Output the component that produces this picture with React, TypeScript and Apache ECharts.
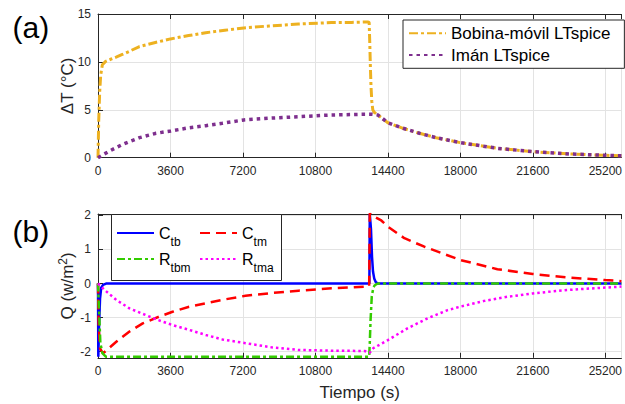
import React, { useEffect, useRef } from "react";
import * as echarts from "echarts";

// ---- Data ----
const bobinaT = [0, 35, 84, 133, 217, 380, 600, 900, 1235, 1600, 2060, 2800, 3600, 4500, 5350, 6300, 7245, 8500, 9960, 11600, 12600, 13420, 13470, 13500, 13530, 13560, 13600, 13650, 13720, 13910, 14400, 15150, 15970, 16790, 18000, 19840, 21600, 23460, 25200, 26000];
const bobinaV = [0, 3.8, 6.9, 8.6, 9.7, 10.05, 10.25, 10.5, 10.8, 11.15, 11.6, 12.0, 12.4, 12.75, 13.05, 13.3, 13.55, 13.75, 13.95, 14.1, 14.12, 14.17, 14.1, 12.0, 9.5, 7.5, 5.9, 5.0, 4.75, 4.45, 3.65, 3.07, 2.55, 2.09, 1.57, 0.98, 0.63, 0.39, 0.25, 0.2];

const imanT = [0, 300, 578, 900, 1235, 1600, 2060, 2884, 3625, 4530, 5353, 6170, 7245, 8500, 9960, 11600, 12600, 13250, 13630, 13910, 14400, 15150, 15970, 16790, 18000, 19840, 21600, 23460, 25200, 26000];
const imanV = [0, 0.38, 0.7, 1.05, 1.4, 1.72, 2.09, 2.55, 2.79, 3.13, 3.34, 3.59, 3.94, 4.12, 4.28, 4.46, 4.5, 4.53, 4.53, 4.45, 3.65, 3.07, 2.55, 2.09, 1.57, 0.98, 0.63, 0.39, 0.25, 0.2];

const ctbT = [0, 15, 50, 100, 160, 250, 400, 13480, 13500, 13560, 13610, 13660, 13720, 13800, 13900, 26000];
const ctbV = [0, -2.15, -1.3, -0.45, -0.12, -0.04, 0, 0, 2.04, 1.6, 0.8, 0.35, 0.15, 0.04, 0, 0];

const ctmT = [0, 30, 100, 247, 500, 908, 1565, 2222, 3047, 3704, 4528, 5353, 6173, 7325, 8600, 9960, 11600, 13250, 13470, 13500, 13600, 14070, 14400, 15220, 16210, 18000, 19840, 21600, 23300, 25200, 26000];
const ctmV = [0, -1.2, -1.9, -2.05, -1.92, -1.71, -1.41, -1.17, -0.97, -0.83, -0.68, -0.58, -0.48, -0.36, -0.28, -0.21, -0.14, -0.09, -0.08, 2.06, 2.0, 1.85, 1.67, 1.33, 1.08, 0.69, 0.42, 0.28, 0.18, 0.1, 0.07];

const rtbmT = [0, 50, 118, 217, 400, 13470, 13500, 13540, 13600, 13680, 13750, 13900, 26000];
const rtbmV = [0, -0.76, -1.75, -2.04, -2.15, -2.15, -1.75, -1.06, -0.37, -0.12, -0.05, 0, 0];

const rtmaT = [0, 330, 908, 1565, 2222, 2884, 3704, 4528, 5353, 6173, 7325, 8600, 9960, 11600, 13250, 13500, 13670, 14400, 15390, 16380, 17370, 18000, 19185, 20330, 21600, 23300, 25200, 26000];
const rtmaV = [0, -0.19, -0.48, -0.73, -0.89, -1.05, -1.22, -1.36, -1.51, -1.64, -1.75, -1.87, -1.95, -1.97, -1.98, -2.03, -1.9, -1.66, -1.31, -1.02, -0.78, -0.68, -0.51, -0.39, -0.29, -0.19, -0.12, -0.09];

const topYTicks = [0, 5, 10, 15];
const bottomYTicks = [-2, -1, 0, 1, 2];

const zip = (t: number[], v: number[]) => t.map((x, i) => [x, v[i]]);

const FONT = "Liberation Sans, Arial, Helvetica, sans-serif";
const AX = "#262626";
const GRIDC = "#e3e3e3";
const plain = (v: number) => String(v);

function xAxisPair(gridIndex: number, withName: boolean) {
  const common = {
    type: "value" as const,
    gridIndex,
    min: 0,
    max: 26000,
    interval: 3600,
    axisLine: { show: true, onZero: false, lineStyle: { color: AX, width: 1 } },
    axisTick: { show: true, inside: true, length: 5, lineStyle: { color: AX } },
  };
  return [
    {
      ...common,
      position: "bottom",
      axisLabel: { color: AX, fontSize: 12, margin: 7, fontFamily: FONT, showMaxLabel: false, formatter: plain },
      splitLine: { show: true, lineStyle: { color: GRIDC, width: 1 } },
      ...(withName
        ? {
            name: "Tiempo (s)",
            nameLocation: "middle",
            nameGap: 26,
            nameMoveOverlap: false,
            nameTextStyle: { fontSize: 17, color: AX, fontFamily: FONT },
          }
        : {}),
    },
    {
      ...common,
      position: "top",
      axisLabel: { show: false },
      splitLine: { show: false },
    },
  ];
}

const subLegend = (names: string[], left: number) => ({
  data: names,
  orient: "vertical",
  left,
  top: 225,
  itemWidth: 37,
  itemHeight: 14,
  itemGap: 3,
  padding: 0,
  itemStyle: { opacity: 0, borderWidth: 0 },
  formatter: (n: string) => `{m|${n[0]}}{s|${n.slice(1)}}`,
  textStyle: {
    color: "#000",
    fontFamily: FONT,
    rich: {
      m: { fontSize: 16, color: "#000", fontFamily: FONT },
      s: { fontSize: 12, color: "#000", fontFamily: FONT, padding: [18, 0, 0, 0] },
    },
  },
});

export default function App() {
  const ref = useRef<HTMLDivElement>(null);
  useEffect(() => {
    if (!ref.current) return;
    const chart = echarts.init(ref.current, null, { renderer: "svg" });
    const lineBase = { type: "line", symbol: "none", showSymbol: false, animation: false };
    const option: any = {
      animation: false,
      backgroundColor: "#fff",
      textStyle: { fontFamily: FONT },
      grid: [
        { left: 98, right: -1, top: 14, height: 143.7 },
        { left: 98, right: -1, top: 214, height: 143.8 },
      ],
      xAxis: [...xAxisPair(0, false), ...xAxisPair(1, true)],
      yAxis: [
        {
          type: "value",
          gridIndex: 0,
          min: topYTicks[0],
          max: topYTicks[topYTicks.length - 1],
          interval: 5,
          name: "ΔT (°C)",
          nameLocation: "middle",
          nameGap: 22,
          nameMoveOverlap: false,
          nameTextStyle: { fontSize: 17, color: AX, fontFamily: FONT },
          axisLine: { show: true, onZero: false, lineStyle: { color: AX } },
          axisTick: { show: true, inside: true, length: 5, lineStyle: { color: AX } },
          axisLabel: { color: AX, fontSize: 12, margin: 7, fontFamily: FONT, formatter: plain },
          splitLine: { show: true, lineStyle: { color: GRIDC } },
        },
        {
          type: "value",
          gridIndex: 1,
          min: -2.18,
          max: 2.04,
          name: "{n|Q (w/m}{s|2}{n|)}",
          nameLocation: "middle",
          nameGap: 21,
          nameMoveOverlap: false,
          nameTextStyle: {
            fontSize: 17,
            color: AX,
            fontFamily: FONT,
            rich: {
              n: { fontSize: 17, color: AX, fontFamily: FONT },
              s: { fontSize: 12, color: AX, fontFamily: FONT, padding: [0, 0, 8, 0] },
            },
          },
          axisLine: { show: true, onZero: false, lineStyle: { color: AX } },
          axisTick: { show: true, inside: true, length: 5, lineStyle: { color: AX }, customValues: bottomYTicks },
          axisLabel: { color: AX, fontSize: 12, margin: 7, fontFamily: FONT, customValues: bottomYTicks, formatter: plain },
          splitLine: { show: true, lineStyle: { color: GRIDC } },
        },
      ],
      legend: [
        {
          data: ["Bobina-móvil LTspice", "Imán LTspice"],
          orient: "vertical",
          left: 403,
          top: 20,
          itemWidth: 37,
          itemHeight: 14,
          itemGap: 4.7,
          padding: [4.8, 14, 4.8, 5],
          backgroundColor: "#fff",
          borderColor: AX,
          borderWidth: 1,
          borderRadius: 0,
          itemStyle: { opacity: 0, borderWidth: 0 },
          textStyle: { fontSize: 17, color: "#000", fontFamily: FONT },
        },
        subLegend(["Ctb", "Rtbm"], 116),
        subLegend(["Ctm", "Rtma"], 199),
      ],
      graphic: [
        {
          type: "text",
          x: 12.5,
          y: 27.5,
          style: { text: "(a)", fontSize: 30, fontFamily: FONT, fill: "#000", verticalAlign: "middle", align: "left" },
        },
        {
          type: "text",
          x: 12.5,
          y: 231,
          style: { text: "(b)", fontSize: 30, fontFamily: FONT, fill: "#000", verticalAlign: "middle", align: "left" },
        },
        {
          type: "rect",
          z: 3,
          shape: { x: 111.5, y: 214.5, width: 170, height: 66 },
          style: { fill: "#fff", stroke: AX, lineWidth: 1 },
        },
      ],
      series: [
        {
          ...lineBase,
          name: "Bobina-móvil LTspice",
          xAxisIndex: 0,
          yAxisIndex: 0,
          data: zip(bobinaT, bobinaV),
          itemStyle: { color: "#EDB120" },
          lineStyle: { color: "#EDB120", width: 3, type: [9, 3, 3, 3] },
        },
        {
          ...lineBase,
          name: "Imán LTspice",
          xAxisIndex: 0,
          yAxisIndex: 0,
          data: zip(imanT, imanV),
          itemStyle: { color: "#7E2F8E" },
          lineStyle: { color: "#7E2F8E", width: 3.5, type: [3.5, 4] },
        },
        {
          ...lineBase,
          name: "Ctb",
          xAxisIndex: 2,
          yAxisIndex: 1,
          data: zip(ctbT, ctbV),
          itemStyle: { color: "#0000FF" },
          lineStyle: { color: "#0000FF", width: 2.5, type: "solid" },
        },
        {
          ...lineBase,
          name: "Ctm",
          xAxisIndex: 2,
          yAxisIndex: 1,
          data: zip(ctmT, ctmV),
          itemStyle: { color: "#FF0000" },
          lineStyle: { color: "#FF0000", width: 2.5, type: [10, 6] },
        },
        {
          ...lineBase,
          name: "Rtbm",
          xAxisIndex: 2,
          yAxisIndex: 1,
          data: zip(rtbmT, rtbmV),
          itemStyle: { color: "#33CC00" },
          lineStyle: { color: "#33CC00", width: 2.5, type: [8, 3, 3, 3] },
        },
        {
          ...lineBase,
          name: "Rtma",
          xAxisIndex: 2,
          yAxisIndex: 1,
          data: zip(rtmaT, rtmaV),
          itemStyle: { color: "#FF00FF" },
          lineStyle: { color: "#FF00FF", width: 2.5, type: [2.5, 3] },
        },
      ],
    };
    chart.setOption(option);
    return () => chart.dispose();
  }, []);
  return <div ref={ref} style={{ width: 625, height: 404, position: "absolute", left: 0, top: 0 }} />;
}
